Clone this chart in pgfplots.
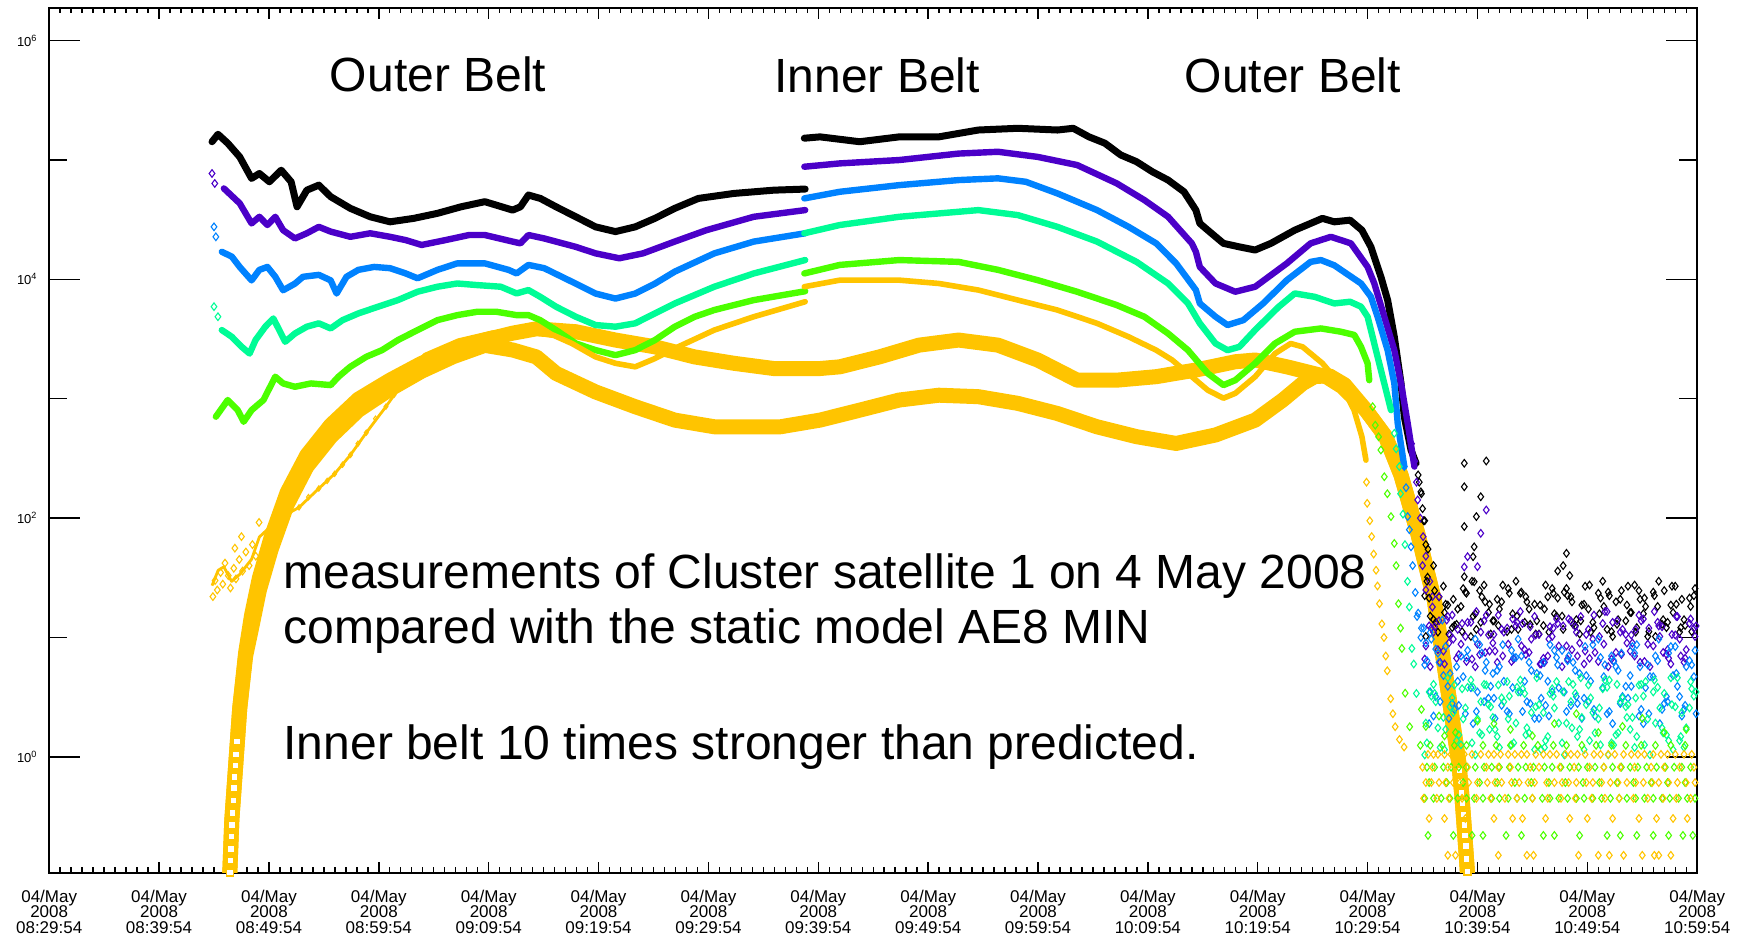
\documentclass[border=0pt]{standalone}
\usepackage{fontspec}
\setmainfont{Liberation Sans}
\usepackage{pgfplots}
\pgfplotsset{compat=1.18}

\definecolor{cIndigo}{RGB}{75,0,200}
\definecolor{cAzure}{RGB}{0,130,255}
\definecolor{cSpring}{RGB}{0,252,150}
\definecolor{cLime}{RGB}{76,255,0}
\definecolor{cAmber}{RGB}{255,196,0}

\pgfplotsset{
  flux/.style={mark=none, line width=3.2pt, line join=round, line cap=round},
  scatt/.style={only marks, mark=diamond, mark size=1.9pt,
    mark options={line width=0.55pt, fill=none, solid}},
  ae8/.style={mark=none, line width=7.5pt, line join=round, line cap=butt, color=cAmber},
}

\begin{document}
\begin{tikzpicture}
\useasboundingbox (-24.6pt,-32.5pt) rectangle (851.9pt,436.4pt);
\begin{axis}[
  scale only axis, width=824pt, height=432.5pt,
  xmin=0, xmax=150,
  ymode=log, ymin=0.107, ymax=1.88e6,
  axis line style={line width=0.9pt},
  tick style={black, line width=0.7pt},
  xtick={0,10,...,150}, minor x tick num=9,
  xtick style={/pgfplots/major tick length=5.5pt, /pgfplots/minor tick length=2.8pt},
  ytick style={/pgfplots/major tick length=15.5pt, /pgfplots/minor tick length=9pt},
  xticklabels={
    {04/May\\2008\\08:29:54},{04/May\\2008\\08:39:54},{04/May\\2008\\08:49:54},
    {04/May\\2008\\08:59:54},{04/May\\2008\\09:09:54},{04/May\\2008\\09:19:54},
    {04/May\\2008\\09:29:54},{04/May\\2008\\09:39:54},{04/May\\2008\\09:49:54},
    {04/May\\2008\\09:59:54},{04/May\\2008\\10:09:54},{04/May\\2008\\10:19:54},
    {04/May\\2008\\10:29:54},{04/May\\2008\\10:39:54},{04/May\\2008\\10:49:54},
    {04/May\\2008\\10:59:54}},
  xticklabel style={align=center, font=\fontsize{8.5}{7.8}\selectfont},
  xticklabel shift=5pt,
  ytick={1,100,10000,1000000},
  yticklabels={10\textsuperscript{0},10\textsuperscript{2},10\textsuperscript{4},10\textsuperscript{6}},
  minor ytick={10,1000,100000},
  yticklabel style={font=\fontsize{6.5}{7}\selectfont},
  yticklabel shift=2.3pt,
]

% ---------------- AE8 MIN model, two channels ----------------
\addplot[ae8] coordinates {
(16.40,0.0786)(16.44,0.108)(16.62,0.294)(16.98,0.865)(17.34,2.54)(17.88,7.48)
(18.42,15.4)(19.13,31.5)(20.21,69.5)(21.66,164)(23.45,337)(25.62,600)(28.14,991)
(31.02,1430)(33.90,1980)(36.77,2550)(39.65,3100)(42.18,3540)(44.34,3850)(47.93,3640)
(51.54,3100)(55.13,2720)(58.74,2240)(62.33,1980)(65.94,1790)(70.16,1790)(71.96,1850)
(75.57,2240)(79.17,2810)(82.77,3100)(86.36,2810)(89.97,2110)(93.56,1430)(97.17,1430)
(100.76,1530)(104.37,1740)(107.96,2040)(109.77,2110)(112.65,1850)(116.24,1530)
(117.69,1260)(119.85,802)(121.64,481)(123.04,229)(124.56,74.6)(126.07,20.6)
(126.99,5.7)(127.90,1.57)(128.30,0.9)(128.60,0.45)(128.85,0.22)(129.05,0.12)(129.20,0.07)};
\addplot[ae8] coordinates {
(16.40,0.0786)(16.44,0.108)(16.62,0.294)(16.98,0.865)(17.34,2.54)(17.88,7.0)
(18.42,12)(19.13,25)(20.21,55)(21.66,130)(23.45,270)(25.62,480)(28.14,800)
(31.02,1200)(33.90,1700)(36.77,2250)(39.65,2800)(42.18,2560)(44.34,2240)(46.13,1630)
(49.73,1140)(53.34,857)(56.94,662)(60.54,582)(64.13,582)(66.56,582)(70.16,662)
(73.77,802)(77.37,975)(80.97,1070)(84.57,1040)(88.17,914)(91.77,752)(95.37,582)
(98.97,481)(102.57,422)(106.16,497)(109.77,662)(112.28,975)(114.08,1340)(115.17,1530)
(116.50,1560)(117.90,1310)(119.85,802)(121.64,481)(123.04,229)(124.56,74.6)(126.07,20.6)
(126.99,5.7)(127.90,1.57)(128.30,0.9)(128.60,0.45)(128.85,0.22)(129.05,0.12)(129.20,0.07)};
\addplot[only marks, mark=square*, mark size=1.75pt,
  mark options={draw=cAmber, fill=white, line width=0.8pt}] coordinates {
(16.44,0.108)(16.50,0.135)(16.55,0.17)(16.60,0.215)(16.65,0.27)(16.70,0.34)(16.76,0.43)
(16.82,0.55)(16.88,0.68)(16.95,0.85)(17.02,1.05)(17.10,1.35)
(129.10,0.11)(129.02,0.14)(128.95,0.18)(128.88,0.22)(128.80,0.27)(128.72,0.33)
(128.64,0.41)(128.55,0.5)(128.45,0.62)(128.35,0.77)};

% ---------------- measured fluxes, channel 1 (black) ----------------
\addplot[flux, black, line width=3.5pt] coordinates {
(14.82,1.42e5)(15.36,1.64e5)(16.25,1.38e5)(17.34,1.06e5)(18.42,7.0e4)(19.13,7.7e4)
(20.04,6.56e4)(21.12,8.2e4)(22.02,6.56e4)(22.56,4.05e4)(23.45,5.58e4)(24.54,6.15e4)
(25.62,4.92e4)(27.41,3.93e4)(29.22,3.34e4)(31.02,3.03e4)(33.18,3.24e4)(35.34,3.57e4)
(37.49,4.05e4)(39.65,4.47e4)(42.18,3.8e4)(42.89,4.05e4)(43.62,5.08e4)(44.70,4.76e4)
(46.13,4.05e4)(47.93,3.34e4)(49.73,2.75e4)(51.54,2.51e4)(53.34,2.75e4)(55.13,3.24e4)
(56.94,3.93e4)(59.09,4.76e4)(62.33,5.24e4)(65.94,5.58e4)(68.81,5.7e4)};
\addplot[flux, black, line width=3.5pt] coordinates {
(68.73,1.52e5)(70.16,1.56e5)(73.77,1.42e5)(77.37,1.56e5)(80.97,1.56e5)(84.57,1.78e5)
(88.17,1.84e5)(91.77,1.78e5)(93.21,1.84e5)(94.64,1.56e5)(96.09,1.38e5)(97.53,1.10e5)
(98.97,9.66e4)(100.41,7.96e4)(101.84,6.78e4)(103.29,5.41e4)(104.37,3.8e4)(104.73,2.94e4)
(105.45,2.58e4)(106.88,2.0e4)(108.33,1.87e4)(109.76,1.76e4)(111.20,2.0e4)(113.37,2.58e4)
(115.89,3.24e4)(116.97,3.03e4)(118.40,3.13e4)(119.48,2.58e4)(120.30,1.87e4)(121.21,1.05e4)
(121.82,6710)(122.43,3300)(123.04,1350)(123.34,706)(123.95,372)(124.41,288)};

% ---------------- channel 2 (indigo) ----------------
\addplot[scatt, cIndigo] coordinates {(14.82,7.7e4)(15.07,6.35e4)};
\addplot[flux, cIndigo] coordinates {
(15.90,5.77e4)(17.34,4.33e4)(18.42,2.94e4)(19.13,3.34e4)(19.86,2.85e4)(20.58,3.34e4)
(21.29,2.58e4)(22.37,2.2e4)(23.45,2.43e4)(24.54,2.75e4)(25.62,2.51e4)(27.41,2.27e4)
(29.22,2.43e4)(31.02,2.27e4)(32.45,2.13e4)(33.90,1.94e4)(36.06,2.13e4)(38.22,2.35e4)
(39.65,2.35e4)(42.18,2.07e4)(42.89,2.0e4)(43.62,2.35e4)(45.05,2.2e4)(47.93,1.87e4)
(49.73,1.65e4)(51.89,1.5e4)(54.05,1.65e4)(56.93,2.07e4)(59.82,2.58e4)(64.13,3.34e4)
(68.81,3.8e4)};
\addplot[flux, cIndigo] coordinates {
(68.73,8.77e4)(71.96,9.35e4)(77.37,9.98e4)(82.77,1.13e5)(86.36,1.17e5)(89.97,1.06e5)
(93.56,9.06e4)(97.17,6.36e4)(99.68,4.61e4)(101.84,3.34e4)(104.00,2.0e4)(104.37,1.7e4)
(104.73,1.27e4)(106.16,9230)(107.96,7870)(109.77,8670)(112.65,1.36e4)(114.81,2.0e4)
(116.66,2.27e4)(118.48,2.0e4)(120.00,1.27e4)(120.61,9230)(121.52,4860)(122.43,2550)
(123.04,1350)(123.65,622)(124.26,270)};

% ---------------- channel 3 (azure) ----------------
\addplot[scatt, cAzure] coordinates {(15.00,2.75e4)(15.17,2.27e4)};
\addplot[flux, cAzure] coordinates {
(15.71,1.7e4)(16.62,1.55e4)(17.34,1.27e4)(18.42,9800)(19.13,1.2e4)(19.86,1.27e4)
(20.58,1.05e4)(21.29,8100)(22.37,9200)(23.10,1.05e4)(24.54,1.09e4)(25.62,9800)
(26.16,7600)(27.06,1.05e4)(28.14,1.2e4)(29.57,1.27e4)(31.02,1.24e4)(32.45,1.12e4)
(33.53,1.02e4)(35.34,1.2e4)(37.14,1.36e4)(39.65,1.36e4)(41.81,1.2e4)(42.54,1.12e4)
(43.62,1.32e4)(45.05,1.24e4)(47.93,9200)(49.73,7600)(51.54,6900)(53.34,7600)
(55.13,9200)(56.94,1.16e4)(60.54,1.65e4)(64.13,2.07e4)(68.81,2.43e4)};
\addplot[flux, cAzure] coordinates {
(68.73,4.76e4)(71.96,5.41e4)(77.37,6.15e4)(82.77,6.78e4)(86.36,7.01e4)(88.89,6.56e4)
(91.77,5.24e4)(95.37,3.8e4)(98.25,2.75e4)(100.76,2.0e4)(102.57,1.36e4)(104.37,8130)
(104.73,6280)(106.16,4860)(107.25,4140)(108.69,4550)(110.49,6280)(112.65,9840)
(114.81,1.4e4)(115.75,1.45e4)(116.97,1.31e4)(119.40,9230)(120.30,7140)(120.91,4860)
(121.82,2550)(122.43,1350)(122.74,622)(123.34,270)};

% ---------------- channel 4 (spring green) ----------------
\addplot[scatt, cSpring] coordinates {(15.00,5900)(15.36,4860)};
\addplot[flux, cSpring] coordinates {
(15.71,3760)(16.62,3300)(17.52,2720)(18.24,2390)(18.78,3100)(19.67,4010)(20.40,4700)
(20.94,3760)(21.48,3000)(22.37,3520)(23.45,4010)(24.54,4280)(25.62,3880)(26.70,4550)
(28.14,5180)(29.94,5900)(31.74,6700)(33.53,7870)(35.34,8670)(37.14,9230)(38.94,8950)
(41.10,8670)(42.54,7620)(43.62,8130)(44.69,7140)(46.13,5900)(47.93,4860)(49.73,4140)
(51.54,4010)(53.34,4280)(55.13,5180)(56.94,6280)(60.54,8670)(64.13,1.12e4)(68.81,1.45e4)};
\addplot[flux, cSpring] coordinates {
(68.73,2.43e4)(71.96,2.85e4)(77.37,3.34e4)(84.57,3.8e4)(88.17,3.45e4)(91.77,2.75e4)
(95.37,2.07e4)(98.97,1.4e4)(101.84,9230)(103.65,6280)(104.73,4280)(106.16,2900)
(107.25,2550)(108.33,2720)(109.76,3760)(111.92,5900)(113.37,7620)(115.17,7140)
(116.97,6280)(118.40,6490)(119.40,5900)(120.00,4860)(120.30,3760)(120.91,2240)
(121.52,1340)(122.13,802)};

% ---------------- channel 5 (lime) ----------------
\addplot[flux, cLime] coordinates {
(15.17,707)(16.25,975)(17.16,802)(17.70,641)(18.42,802)(19.50,975)(20.58,1528)
(21.29,1343)(22.37,1259)(23.82,1343)(25.62,1300)(26.33,1528)(27.41,1854)(28.86,2244)
(30.30,2553)(31.74,3097)(33.53,3758)(35.34,4550)(37.14,5012)(38.94,5346)(40.73,5346)
(42.54,5012)(43.62,5012)(44.69,4550)(46.13,3758)(47.93,2904)(49.73,2553)(51.54,2317)
(53.34,2553)(55.13,3097)(56.94,4009)(58.74,4853)(60.54,5534)(64.13,6699)(68.81,7950)};
\addplot[flux, cLime] coordinates {
(68.73,1.12e4)(71.96,1.32e4)(77.37,1.45e4)(82.77,1.4e4)(86.36,1.2e4)(89.97,9840)
(93.56,7870)(97.17,6080)(99.68,4860)(101.84,3520)(103.65,2550)(105.45,1630)(106.88,1300)
(107.96,1430)(109.77,1980)(111.57,2900)(113.37,3640)(115.75,3880)(117.57,3640)
(118.79,3420)(119.40,2720)(120.00,1980)(120.15,1430)};

% ---------------- channel 6 (amber) ----------------
\addplot[scatt, cAmber] coordinates {
(14.90,22)(15.10,30)(15.30,25)(15.60,35)(15.80,28)(16.00,42)(16.30,33)(16.50,26)
(16.80,38)(17.00,31)(17.30,45)(17.60,36)(17.90,52)(18.20,40)(18.50,60)(18.80,48)
(16.90,56)(17.50,70)(19.10,92)};
\addplot[mark=none, cAmber, line width=1.4pt, line join=round] coordinates {
(14.82,27.2)(15.38,36.6)(15.90,39.1)(16.60,29.5)(17.34,33.8)(18.42,45.2)(19.13,69.5)
(20.94,99.3)(22.74,123)(24.54,177)(25.98,235)(27.42,338)(28.86,519)(30.65,859)(32.10,1320)};
\addplot[scatt, cAmber, mark size=1.3pt] coordinates {
(20.94,99.3)(21.80,110)(22.74,123)(23.60,150)(24.54,177)(25.30,205)(25.98,235)
(26.70,280)(27.42,338)(28.10,420)(28.86,519)(29.70,680)(30.65,859)(31.40,1080)};
\addplot[flux, cAmber, line width=2.8pt] coordinates {
(32.10,1320)(34.22,2300)(37.27,3040)(40.33,3540)(43.38,3690)(45.93,3390)(47.58,2900)
(49.73,2240)(51.54,1980)(53.34,1850)(55.13,2170)(56.94,2640)(60.54,3760)(64.13,4860)
(68.81,6490)};
\addplot[flux, cAmber, line width=2.8pt] coordinates {
(68.73,8670)(71.96,9840)(77.37,9840)(80.97,9230)(84.57,8130)(88.17,6700)(91.77,5530)
(95.37,4280)(98.25,3300)(100.76,2550)(102.21,2110)(104.00,1530)(105.45,1180)(106.88,1010)
(107.96,1110)(109.77,1530)(111.57,2390)(113.00,2900)(114.08,2720)(115.89,1980)
(117.69,1260)(118.77,802)(119.48,481)(119.85,306)};

% ---------------- steep fall-off at the belt edge ----------------
\addplot[scatt, black] coordinates {
(124.6,230)(124.85,166)(125.1,95)(125.3,60)(125.46,32)(125.0,120)(124.7,200)};
\addplot[scatt, cIndigo] coordinates {
(124.0,420)(124.3,300)(124.56,142)(124.8,100)(125.05,70)(125.3,48)(125.66,29.5)
(125.9,22)(124.45,200)};
\addplot[scatt, cAzure] coordinates {
(123.34,270)(123.65,103)(123.95,57.5)(124.34,23.8)(124.85,10)(123.5,180)(123.8,80)
(124.1,40)(124.6,16)(125.1,12)};
\addplot[scatt, cSpring] coordinates {
(122.43,513)(122.89,270)(123.22,108)(123.63,29.5)(124.03,8.1)(124.44,3.4)(122.6,380)
(123.0,160)(123.4,60)(123.8,18)(124.2,6)};
\addplot[scatt, cLime] coordinates {
(120.46,857)(120.70,600)(121.00,480)(121.21,372)(121.52,222)(121.80,160)(122.13,103)
(122.43,61.4)(122.60,40)(122.81,19.2)(123.00,12)(123.12,8.1)(123.42,3.42)(123.83,1.79)};
\addplot[scatt, cAmber] coordinates {
(119.90,200)(119.96,133)(120.20,95)(120.37,70)(120.55,50)(120.77,36.6)(120.90,27)
(121.08,19.2)(121.30,13)(121.49,10)(121.65,7)(121.79,5.26)(122.10,3.07)(122.30,2.3)
(122.51,1.79)(122.90,1.4)(123.32,1.21)};

% ---------------- background counts after leaving the belts ----------------
\addplot[scatt, black] table[row sep=\\] {
125.2 22.4\\ 126.0 14.1\\ 126.9 26.9\\ 127.7 12.1\\ 128.5 18.2\\ 129.4 10.2\\ 130.2 24.7\\
131.0 16.2\\ 131.8 20.9\\ 132.7 11.2\\ 133.5 29.6\\ 134.3 13.4\\ 135.2 19.0\\ 136.0 12.6\\
136.8 25.7\\ 137.7 15.1\\ 138.5 21.9\\ 139.3 10.7\\ 140.1 17.3\\ 141.0 23.5\\ 141.8 11.7\\
142.6 19.9\\ 143.5 13.8\\ 144.3 27.5\\ 145.1 15.8\\ 146.0 24.0\\ 146.8 12.9\\ 147.6 18.7\\
148.4 11.1\\ 149.3 21.4\\
125.6 21.4\\ 126.4 11.1\\ 127.3 18.7\\ 128.1 12.9\\ 128.9 24.0\\ 129.8 15.8\\ 130.6 27.5\\
131.4 13.8\\ 132.2 19.9\\ 133.1 11.7\\ 133.9 23.5\\ 134.7 17.3\\ 135.6 10.7\\ 136.4 21.9\\
137.2 15.1\\ 138.1 25.7\\ 138.9 12.6\\ 139.7 19.0\\ 140.5 13.4\\ 141.4 29.6\\ 142.2 11.2\\
143.0 20.9\\ 143.9 16.2\\ 144.7 24.7\\ 145.5 10.2\\ 146.4 18.2\\ 147.2 12.1\\ 148.0 26.9\\
148.8 14.1\\ 149.7 22.4\\
125.4 29.6\\ 126.2 13.4\\ 127.1 19.0\\ 127.9 12.6\\ 128.7 25.7\\ 129.6 15.1\\ 130.4 21.9\\
131.2 10.7\\ 132.0 17.3\\ 132.9 23.5\\ 133.7 11.7\\ 134.5 19.9\\ 135.4 13.8\\ 136.2 27.5\\
137.0 15.8\\ 137.9 24.0\\ 138.7 12.9\\ 139.5 18.7\\ 140.3 11.1\\ 141.2 21.4\\ 142.0 22.4\\
142.8 14.1\\ 143.7 26.9\\ 144.5 12.1\\ 145.3 18.2\\ 146.2 10.2\\ 147.0 24.7\\ 147.8 16.2\\
148.6 20.9\\ 149.5 11.2\\
125.3 10.2\\ 126.1 24.7\\ 127.0 16.2\\ 127.8 20.9\\ 128.6 11.2\\ 129.5 29.6\\ 130.3 13.4\\
131.1 19.0\\ 131.9 12.6\\ 132.8 25.7\\ 133.6 15.1\\ 134.4 21.9\\ 135.3 10.7\\ 136.1 17.3\\
136.9 23.5\\ 137.8 11.7\\ 138.6 19.9\\ 139.4 13.8\\ 140.2 27.5\\ 141.1 15.8\\ 141.9 24.0\\
142.7 12.9\\ 143.6 18.7\\ 144.4 11.1\\ 145.2 21.4\\ 146.1 22.4\\ 146.9 14.1\\ 147.7 26.9\\
148.5 12.1\\ 149.4 18.2\\
125.7 15.1\\ 126.5 21.9\\ 127.4 10.7\\ 128.2 17.3\\ 129.0 23.5\\ 129.9 11.7\\ 130.7 19.9\\
131.5 13.8\\ 132.3 27.5\\ 133.2 15.8\\ 134.0 24.0\\ 134.8 12.9\\ 135.7 18.7\\ 136.5 11.1\\
137.3 21.4\\ 138.2 22.4\\ 139.0 14.1\\ 139.8 26.9\\ 140.6 12.1\\ 141.5 18.2\\ 142.3 10.2\\
143.1 24.7\\ 144.0 16.2\\ 144.8 20.9\\ 145.6 11.2\\ 146.5 29.6\\ 147.3 13.4\\ 148.1 19.0\\
148.9 12.6\\ 149.8 25.7\\
128.8 288\\ 130.8 301\\ 128.8 183\\ 130.3 151\\ 129.9 103\\ 128.8 85\\ 129.7 57.5\\
129.6 47.5\\ 128.8 32.3\\ 129.7 29.3\\ 138.1 50.7\\ 124.9 160\\ 125.2 95\\ 125.5 55\\
126.0 40\\ 137.3 36\\ 137.8 40\\ 138.4 33\\
};
\addplot[scatt, cIndigo] table[row sep=\\] {
125.6 12.5\\ 126.4 7.9\\ 127.3 15.0\\ 128.1 6.7\\ 128.9 10.2\\ 129.8 5.7\\ 130.6 13.8\\
131.4 9.0\\ 132.2 11.7\\ 133.1 6.3\\ 133.9 16.5\\ 134.7 7.5\\ 135.6 10.6\\ 136.4 7.0\\
137.2 14.3\\ 138.1 8.5\\ 138.9 12.3\\ 139.7 6.0\\ 140.5 9.7\\ 141.4 13.1\\ 142.2 6.6\\
143.0 11.1\\ 143.9 7.7\\ 144.7 15.4\\ 145.5 8.8\\ 146.4 13.4\\ 147.2 7.2\\ 148.0 10.5\\
148.8 6.2\\ 149.7 12.0\\
125.8 12.0\\ 126.6 6.2\\ 127.5 10.5\\ 128.3 7.2\\ 129.1 13.4\\ 130.0 8.8\\ 130.8 15.4\\
131.6 7.7\\ 132.4 11.1\\ 133.3 6.6\\ 134.1 13.1\\ 134.9 9.7\\ 135.8 6.0\\ 136.6 12.3\\
137.4 8.5\\ 138.3 14.3\\ 139.1 7.0\\ 139.9 10.6\\ 140.7 7.5\\ 141.6 16.5\\ 142.4 6.3\\
143.2 11.7\\ 144.1 9.0\\ 144.9 13.8\\ 145.7 5.7\\ 146.6 10.2\\ 147.4 6.7\\ 148.2 15.0\\
149.0 7.9\\ 149.9 12.5\\
125.2 6.6\\ 126.0 11.1\\ 126.9 7.7\\ 127.7 15.4\\ 128.5 8.8\\ 129.4 13.4\\ 130.2 7.2\\
131.0 10.5\\ 131.8 6.2\\ 132.7 12.0\\ 133.5 12.5\\ 134.3 7.9\\ 135.2 15.0\\ 136.0 6.7\\
136.8 10.2\\ 137.7 5.7\\ 138.5 13.8\\ 139.3 9.0\\ 140.1 11.7\\ 141.0 6.3\\ 141.8 16.5\\
142.6 7.5\\ 143.5 10.6\\ 144.3 7.0\\ 145.1 14.3\\ 146.0 8.5\\ 146.8 12.3\\ 147.6 6.0\\
148.4 9.7\\ 149.3 13.1\\
125.7 5.7\\ 126.5 13.8\\ 127.4 9.0\\ 128.2 11.7\\ 129.0 6.3\\ 129.9 16.5\\ 130.7 7.5\\
131.5 10.6\\ 132.3 7.0\\ 133.2 14.3\\ 134.0 8.5\\ 134.8 12.3\\ 135.7 6.0\\ 136.5 9.7\\
137.3 13.1\\ 138.2 6.6\\ 139.0 11.1\\ 139.8 7.7\\ 140.6 15.4\\ 141.5 8.8\\ 142.3 13.4\\
143.1 7.2\\ 144.0 10.5\\ 144.8 6.2\\ 145.6 12.0\\ 146.5 12.5\\ 147.3 7.9\\ 148.1 15.0\\
148.9 6.7\\ 149.8 10.2\\
125.3 8.5\\ 126.1 12.3\\ 127.0 6.0\\ 127.8 9.7\\ 128.6 13.1\\ 129.5 6.6\\ 130.3 11.1\\
131.1 7.7\\ 131.9 15.4\\ 132.8 8.8\\ 133.6 13.4\\ 134.4 7.2\\ 135.3 10.5\\ 136.1 6.2\\
136.9 12.0\\ 137.8 12.5\\ 138.6 7.9\\ 139.4 15.0\\ 140.2 6.7\\ 141.1 10.2\\ 141.9 5.7\\
142.7 13.8\\ 143.6 9.0\\ 144.4 11.7\\ 145.2 6.3\\ 146.1 16.5\\ 146.9 7.5\\ 147.7 10.6\\
148.5 7.0\\ 149.4 14.3\\
130.8 117\\ 130.3 74.6\\ 129.1 47.5\\ 130.0 39.2\\ 128.8 39\\ 125.0 40\\ 125.3 25\\
125.9 18\\ 126.5 22\\ 127.2 14\\
};
\addplot[scatt, cAzure] table[row sep=\\] {
125.4 6.4\\ 126.2 3.2\\ 127.1 8.4\\ 127.9 2.5\\ 128.7 4.7\\ 129.6 1.9\\ 130.4 7.4\\
131.2 3.9\\ 132.0 5.7\\ 132.9 2.3\\ 133.7 9.7\\ 134.5 2.9\\ 135.4 5.0\\ 136.2 2.7\\
137.0 7.8\\ 137.9 3.5\\ 138.7 6.2\\ 139.5 2.1\\ 140.3 4.3\\ 141.2 6.8\\ 142.0 2.4\\
142.8 5.3\\ 143.7 3.1\\ 144.5 8.7\\ 145.3 3.8\\ 146.2 7.0\\ 147.0 2.8\\ 147.8 4.8\\
148.6 2.2\\ 149.5 5.9\\
125.2 5.9\\ 126.0 2.2\\ 126.9 4.8\\ 127.7 2.8\\ 128.5 7.0\\ 129.4 3.8\\ 130.2 8.7\\
131.0 3.1\\ 131.8 5.3\\ 132.7 2.4\\ 133.5 6.8\\ 134.3 4.3\\ 135.2 2.1\\ 136.0 6.2\\
136.8 3.5\\ 137.7 7.8\\ 138.5 2.7\\ 139.3 5.0\\ 140.1 2.9\\ 141.0 9.7\\ 141.8 2.3\\
142.6 5.7\\ 143.5 3.9\\ 144.3 7.4\\ 145.1 1.9\\ 146.0 4.7\\ 146.8 2.5\\ 147.6 8.4\\
148.4 3.2\\ 149.3 6.4\\
125.8 9.7\\ 126.6 2.9\\ 127.5 5.0\\ 128.3 2.7\\ 129.1 7.8\\ 130.0 3.5\\ 130.8 6.2\\
131.6 2.1\\ 132.4 4.3\\ 133.3 6.8\\ 134.1 2.4\\ 134.9 5.3\\ 135.8 3.1\\ 136.6 8.7\\
137.4 3.8\\ 138.3 7.0\\ 139.1 2.8\\ 139.9 4.8\\ 140.7 2.2\\ 141.6 5.9\\ 142.4 6.4\\
143.2 3.2\\ 144.1 8.4\\ 144.9 2.5\\ 145.7 4.7\\ 146.6 1.9\\ 147.4 7.4\\ 148.2 3.9\\
149.0 5.7\\ 149.9 2.3\\
125.6 1.9\\ 126.4 7.4\\ 127.3 3.9\\ 128.1 5.7\\ 128.9 2.3\\ 129.8 9.7\\ 130.6 2.9\\
131.4 5.0\\ 132.2 2.7\\ 133.1 7.8\\ 133.9 3.5\\ 134.7 6.2\\ 135.6 2.1\\ 136.4 4.3\\
137.2 6.8\\ 138.1 2.4\\ 138.9 5.3\\ 139.7 3.1\\ 140.5 8.7\\ 141.4 3.8\\ 142.2 7.0\\
143.0 2.8\\ 143.9 4.8\\ 144.7 2.2\\ 145.5 5.9\\ 146.4 6.4\\ 147.2 3.2\\ 148.0 8.4\\
148.8 2.5\\ 149.7 4.7\\
125.7 3.5\\ 126.5 6.2\\ 127.4 2.1\\ 128.2 4.3\\ 129.0 6.8\\ 129.9 2.4\\ 130.7 5.3\\
131.5 3.1\\ 132.3 8.7\\ 133.2 3.8\\ 134.0 7.0\\ 134.8 2.8\\ 135.7 4.8\\ 136.5 2.2\\
137.3 5.9\\ 138.2 6.4\\ 139.0 3.2\\ 139.8 8.4\\ 140.6 2.5\\ 141.5 4.7\\ 142.3 1.9\\
143.1 7.4\\ 144.0 3.9\\ 144.8 5.7\\ 145.6 2.3\\ 146.5 9.7\\ 147.3 2.9\\ 148.1 5.0\\
148.9 2.7\\ 149.8 7.8\\
124.5 15\\ 124.9 12\\ 125.3 9\\ 125.7 11\\ 126.2 8\\ 126.8 14\\
};
\addplot[scatt, cSpring] table[row sep=\\] {
125.6 3.5\\ 126.4 1.75\\ 127.3 4.6\\ 128.1 1.37\\ 128.9 2.57\\ 129.8 1.04\\ 130.6 4.05\\
131.4 2.14\\ 132.2 3.12\\ 133.1 1.26\\ 133.9 4.4\\ 134.7 1.59\\ 135.6 2.74\\ 136.4 1.48\\
137.2 4.27\\ 138.1 1.92\\ 138.9 3.4\\ 139.7 1.15\\ 140.5 2.35\\ 141.4 3.72\\ 142.2 1.31\\
143.0 2.9\\ 143.9 1.7\\ 144.7 4.0\\ 145.5 2.08\\ 146.4 3.83\\ 147.2 1.53\\ 148.0 2.63\\
148.8 1.2\\ 149.7 3.23\\
125.8 3.23\\ 126.6 1.2\\ 127.5 2.63\\ 128.3 1.53\\ 129.1 3.83\\ 130.0 2.08\\ 130.8 4.0\\
131.6 1.7\\ 132.4 2.9\\ 133.3 1.31\\ 134.1 3.72\\ 134.9 2.35\\ 135.8 1.15\\ 136.6 3.4\\
137.4 1.92\\ 138.3 4.27\\ 139.1 1.48\\ 139.9 2.74\\ 140.7 1.59\\ 141.6 4.4\\ 142.4 1.26\\
143.2 3.12\\ 144.1 2.14\\ 144.9 4.05\\ 145.7 1.04\\ 146.6 2.57\\ 147.4 1.37\\ 148.2 4.6\\
149.0 1.75\\ 149.9 3.5\\
125.4 1.31\\ 126.2 2.9\\ 127.1 1.7\\ 127.9 4.0\\ 128.7 2.08\\ 129.6 3.83\\ 130.4 1.53\\
131.2 2.63\\ 132.0 1.2\\ 132.9 3.23\\ 133.7 3.5\\ 134.5 1.75\\ 135.4 4.6\\ 136.2 1.37\\
137.0 2.57\\ 137.9 1.04\\ 138.7 4.05\\ 139.5 2.14\\ 140.3 3.12\\ 141.2 1.26\\ 142.0 4.4\\
142.8 1.59\\ 143.7 2.74\\ 144.5 1.48\\ 145.3 4.27\\ 146.2 1.92\\ 147.0 3.4\\ 147.8 1.15\\
148.6 2.35\\ 149.5 3.72\\
125.2 1.04\\ 126.0 4.05\\ 126.9 2.14\\ 127.7 3.12\\ 128.5 1.26\\ 129.4 4.4\\ 130.2 1.59\\
131.0 2.74\\ 131.8 1.48\\ 132.7 4.27\\ 133.5 1.92\\ 134.3 3.4\\ 135.2 1.15\\ 136.0 2.35\\
136.8 3.72\\ 137.7 1.31\\ 138.5 2.9\\ 139.3 1.7\\ 140.1 4.0\\ 141.0 2.08\\ 141.8 3.83\\
142.6 1.53\\ 143.5 2.63\\ 144.3 1.2\\ 145.1 3.23\\ 146.0 3.5\\ 146.8 1.75\\ 147.6 4.6\\
148.4 1.37\\ 149.3 2.57\\
125.3 1.92\\ 126.1 3.4\\ 127.0 1.15\\ 127.8 2.35\\ 128.6 3.72\\ 129.5 1.31\\ 130.3 2.9\\
131.1 1.7\\ 131.9 4.0\\ 132.8 2.08\\ 133.6 3.83\\ 134.4 1.53\\ 135.3 2.63\\ 136.1 1.2\\
136.9 3.23\\ 137.8 3.5\\ 138.6 1.75\\ 139.4 4.6\\ 140.2 1.37\\ 141.1 2.57\\ 141.9 1.04\\
142.7 4.05\\ 143.6 2.14\\ 144.4 3.12\\ 145.2 1.26\\ 146.1 4.4\\ 146.9 1.59\\ 147.7 2.74\\
148.5 1.48\\ 149.4 4.27\\
};
\addplot[scatt, cLime] table[row sep=\\] {
124.8 1.25\\ 125.7 1.25\\ 126.8 1.25\\ 127.9 1.25\\ 129.0 1.25\\ 130.5 1.25\\ 131.7 1.25\\
133.0 1.25\\ 134.2 1.25\\ 135.5 1.25\\ 136.9 1.25\\ 138.1 1.25\\ 139.5 1.25\\ 140.8 1.25\\
142.2 1.25\\ 143.5 1.25\\ 144.9 1.25\\ 146.2 1.25\\ 147.6 1.25\\ 148.9 1.25\\
125.4 0.82\\ 126.1 0.82\\ 126.9 0.82\\ 127.6 0.82\\ 128.3 0.82\\ 129.0 0.82\\ 129.8 0.82\\
130.6 0.82\\ 131.3 0.82\\ 132.0 0.82\\ 132.9 0.82\\ 133.7 0.82\\ 134.4 0.82\\ 135.1 0.82\\
136.1 0.82\\ 136.8 0.82\\ 137.6 0.82\\ 138.4 0.82\\ 139.2 0.82\\ 140.0 0.82\\ 140.7 0.82\\
141.5 0.82\\ 142.3 0.82\\ 143.1 0.82\\ 143.9 0.82\\ 144.6 0.82\\ 145.4 0.82\\ 146.3 0.82\\
147.1 0.82\\ 147.9 0.82\\ 148.6 0.82\\ 149.4 0.82\\
125.6 0.61\\ 127.2 0.61\\ 128.7 0.61\\ 130.2 0.61\\ 131.8 0.61\\ 133.4 0.61\\ 134.9 0.61\\
136.5 0.61\\ 138.0 0.61\\ 139.6 0.61\\ 141.1 0.61\\ 142.7 0.61\\ 144.2 0.61\\ 145.8 0.61\\
147.3 0.61\\ 148.9 0.61\\
125.2 0.45\\ 126.0 0.45\\ 126.7 0.45\\ 127.5 0.45\\ 128.2 0.45\\ 129.0 0.45\\ 129.7 0.45\\
130.5 0.45\\ 131.3 0.45\\ 132.0 0.45\\ 132.8 0.45\\ 133.6 0.45\\ 134.3 0.45\\ 135.0 0.45\\
135.9 0.45\\ 136.6 0.45\\ 137.4 0.45\\ 138.2 0.45\\ 139.0 0.45\\ 139.7 0.45\\ 140.5 0.45\\
141.3 0.45\\ 142.1 0.45\\ 142.9 0.45\\ 143.6 0.45\\ 144.4 0.45\\ 145.2 0.45\\ 146.0 0.45\\
146.8 0.45\\ 147.5 0.45\\ 148.3 0.45\\ 149.1 0.45\\ 149.8 0.45\\
125.5 0.22\\ 127.8 0.22\\ 129.5 0.22\\ 130.5 0.22\\ 132.6 0.22\\ 134.0 0.22\\ 136.0 0.22\\
137.0 0.22\\ 139.3 0.22\\ 141.8 0.22\\ 143.0 0.22\\ 144.5 0.22\\ 146.0 0.22\\ 147.4 0.22\\
148.7 0.22\\ 149.6 0.22\\
124.9 2.5\\ 125.3 1.8\\ 126.5 2.2\\ 128.0 1.6\\ 130.0 2.0\\ 133.0 1.7\\ 137.0 1.9\\
141.0 1.6\\ 145.0 2.1\\ 149.0 1.7\\ 127.0 1.5\\ 131.5 1.9\\ 135.0 1.5\\ 139.0 2.3\\
143.2 1.8\\ 147.0 1.6\\
};
\addplot[scatt, cAmber] table[row sep=\\] {
125.5 1.05\\ 126.0 1.05\\ 126.4 1.05\\ 127.0 1.05\\ 127.6 1.05\\ 128.2 1.05\\ 128.8 1.05\\
129.5 1.05\\ 130.3 1.05\\ 131.0 1.05\\ 131.5 1.05\\ 132.1 1.05\\ 132.8 1.05\\ 133.4 1.05\\
134.0 1.05\\ 134.5 1.05\\ 135.3 1.05\\ 136.0 1.05\\ 136.6 1.05\\ 137.2 1.05\\ 138.0 1.05\\
138.5 1.05\\ 139.1 1.05\\ 139.8 1.05\\ 140.6 1.05\\ 141.2 1.05\\ 141.9 1.05\\ 142.5 1.05\\
143.3 1.05\\ 144.0 1.05\\ 144.6 1.05\\ 145.2 1.05\\ 146.0 1.05\\ 146.7 1.05\\ 147.3 1.05\\
148.0 1.05\\ 148.8 1.05\\ 149.5 1.05\\
125.0 0.82\\ 125.9 0.82\\ 127.3 0.82\\ 128.0 0.82\\ 129.1 0.82\\ 130.8 0.82\\ 131.9 0.82\\
133.0 0.82\\ 134.8 0.82\\ 135.6 0.82\\ 137.5 0.82\\ 138.8 0.82\\ 140.2 0.82\\ 141.5 0.82\\
143.0 0.82\\ 144.3 0.82\\ 145.8 0.82\\ 147.0 0.82\\ 148.4 0.82\\ 149.7 0.82\\
125.3 0.61\\ 125.8 0.61\\ 126.5 0.61\\ 127.1 0.61\\ 127.8 0.61\\ 128.4 0.61\\ 129.2 0.61\\
130.0 0.61\\ 130.9 0.61\\ 131.6 0.61\\ 132.2 0.61\\ 133.1 0.61\\ 133.8 0.61\\ 134.6 0.61\\
135.2 0.61\\ 136.3 0.61\\ 137.0 0.61\\ 137.7 0.61\\ 138.3 0.61\\ 139.0 0.61\\ 139.9 0.61\\
140.5 0.61\\ 141.3 0.61\\ 142.1 0.61\\ 142.8 0.61\\ 143.6 0.61\\ 144.4 0.61\\ 145.1 0.61\\
145.9 0.61\\ 146.5 0.61\\ 147.4 0.61\\ 148.2 0.61\\ 149.0 0.61\\ 149.8 0.61\\
125.1 0.45\\ 126.3 0.45\\ 127.4 0.45\\ 128.6 0.45\\ 129.9 0.45\\ 131.2 0.45\\ 132.5 0.45\\
133.6 0.45\\ 135.0 0.45\\ 136.4 0.45\\ 137.6 0.45\\ 138.9 0.45\\ 140.4 0.45\\ 141.6 0.45\\
142.9 0.45\\ 144.2 0.45\\ 145.5 0.45\\ 146.9 0.45\\ 148.1 0.45\\ 149.4 0.45\\
125.6 0.305\\ 127.0 0.305\\ 128.9 0.305\\ 131.5 0.305\\ 133.2 0.305\\ 134.1 0.305\\
136.2 0.305\\ 138.4 0.305\\ 140.0 0.305\\ 142.3 0.305\\ 144.7 0.305\\ 146.3 0.305\\
147.8 0.305\\ 149.1 0.305\\
127.3 0.15\\ 128.0 0.15\\ 131.9 0.15\\ 134.5 0.15\\ 135.1 0.15\\ 139.2 0.15\\ 141.0 0.15\\
142.0 0.15\\ 143.3 0.15\\ 145.0 0.15\\ 146.1 0.15\\ 146.5 0.15\\ 147.6 0.15\\
};

% ---------------- annotations ----------------
\node[anchor=base, font=\fontsize{24}{28}\selectfont, inner sep=0] at (axis cs:35.39,3.72e5) {Outer Belt};
\node[anchor=base, font=\fontsize{24}{28}\selectfont, inner sep=0] at (axis cs:75.36,3.65e5) {Inner Belt};
\node[anchor=base, font=\fontsize{24}{28}\selectfont, inner sep=0] at (axis cs:113.19,3.65e5) {Outer Belt};
\node[anchor=base west, font=\fontsize{24}{28}\selectfont, inner sep=0] at (axis cs:21.3,25.9) {measurements of Cluster satellite 1 on 4 May 2008};
\node[anchor=base west, font=\fontsize{24}{28}\selectfont, inner sep=0] at (axis cs:21.3,8.83) {compared with the static model AE8 MIN};
\node[anchor=base west, font=\fontsize{24}{28}\selectfont, inner sep=0] at (axis cs:21.3,0.957) {Inner belt 10 times stronger than predicted.};
\end{axis}
\end{tikzpicture}
\end{document}
